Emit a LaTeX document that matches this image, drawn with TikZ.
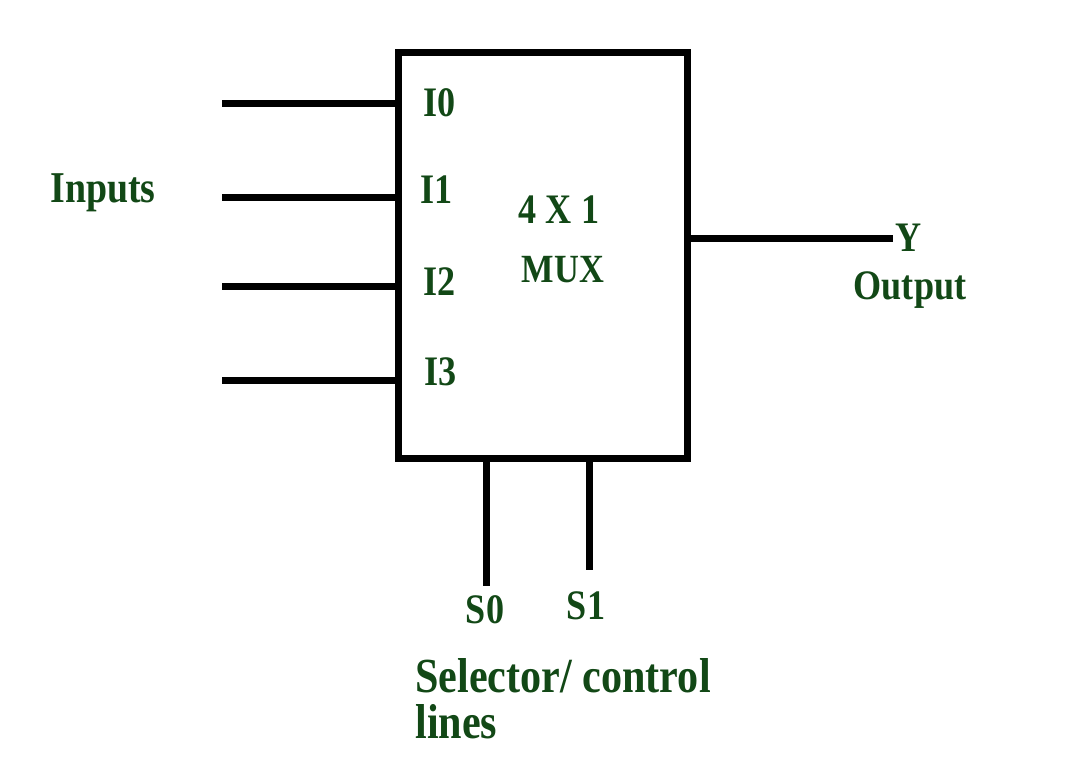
\documentclass[tikz,border=0pt]{standalone}
\usepackage{fontspec}
\setmainfont{Liberation Serif}[FakeStretch=0.86]
\usetikzlibrary{calc, positioning}
\definecolor{lblgreen}{RGB}{18,72,22}

\begin{document}
\begin{tikzpicture}[x=0.5pt, y=-0.5pt,
                wire/.style={line width=3.5pt},
                lbl/.style={text=lblgreen, font=\fontsize{21}{23}\selectfont\bfseries, inner sep=0pt},
                muxbox/.style={draw, line width=3.5pt, minimum width=144.5pt, minimum height=203pt, inner sep=0pt}]

    \useasboundingbox (0,0) rectangle (1070,766); % same frame as the reference

    \node [muxbox] (mux) at (542.5,255) {};

    % input side
    \coordinate (in0) at (222,103);
    \coordinate (in1) at (222,197);
    \coordinate (in2) at (222,286);
    \coordinate (in3) at (222,380);
    \foreach \i in {0,...,3}
        \draw [wire] (in\i) -- (in\i -| mux.west);

    \node [lbl] (i0) at (440,103) {I0};
    \node [lbl] (i1) at (437,190) {I1};
    \node [lbl] (i2) at (440,282) {I2};
    \node [lbl] (i3) at (441,372) {I3};
    \node [lbl, font=\fontsize{22}{24}\selectfont\bfseries] (inp) at (103,193) {Inputs};

    % inside the box
    \node [lbl] (size) at (559,210) {4 X 1};
    \node [lbl, font=\fontsize{20}{22}\selectfont\bfseries] (name) at (563,270) {MUX};

    % output side
    \coordinate (yend) at (893,238);
    \draw [wire] (mux.east |- yend) -- (yend);
    \node [lbl] (y)   at (909,238) {Y};
    \node [lbl] (out) at (910,290) {Output};

    % selector lines
    \coordinate (s0end) at (486,586);
    \coordinate (s1end) at (589,570);
    \draw [wire] (s0end |- mux.south) -- (s0end);
    \draw [wire] (s1end |- mux.south) -- (s1end);
    \node [lbl] (s0) at (485,610) {S0};
    \node [lbl] (s1) at (586,606) {S1};
    \node [lbl, font=\fontsize{24.5}{23}\selectfont\bfseries, align=left, anchor=west] (sel) at (415,676) {Selector/ control};
    \node [lbl, font=\fontsize{24.5}{23}\selectfont\bfseries, anchor=west] (sel2) at (415,722) {lines};

\end{tikzpicture}
\end{document}
